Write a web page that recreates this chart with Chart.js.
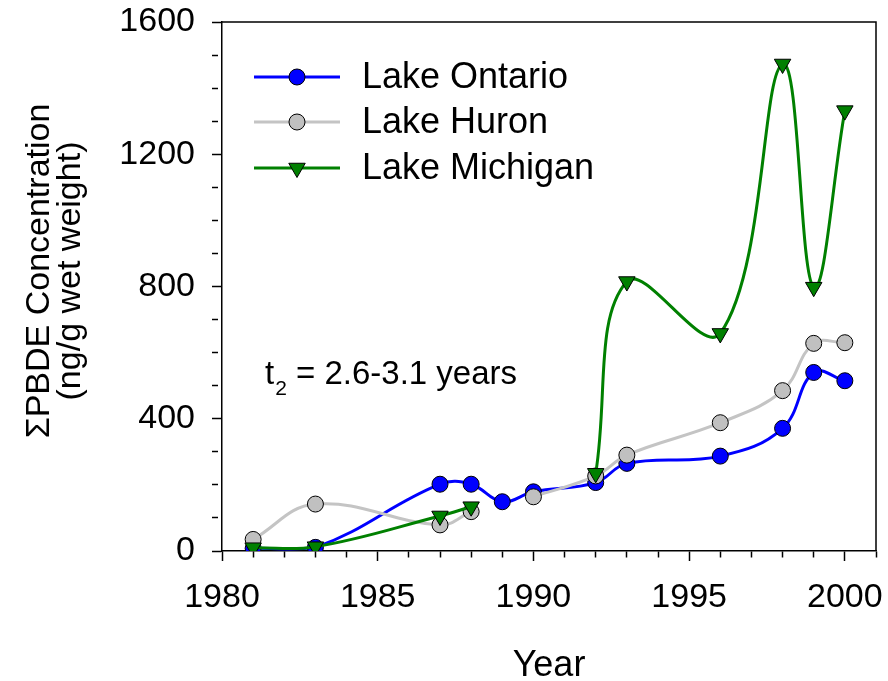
<!DOCTYPE html>
<html>
<head>
<meta charset="utf-8">
<script src="https://cdn.jsdelivr.net/npm/chart.js@4.4.1/dist/chart.umd.min.js"></script>
<style>
html,body{margin:0;padding:0;background:#ffffff;}
#wrap{width:888px;height:681px;}
</style>
</head>
<body>
<div id="wrap"><canvas id="c" width="888" height="681"></canvas></div>
<script>
// ---- data ----
const yearsOntario = [1981, 1983, 1987, 1988, 1989, 1990, 1992, 1993, 1996, 1998, 1999, 2000];
const ontario      = [8, 11, 202, 202, 149, 179, 207, 265, 287, 371, 540, 515];

const yearsHuron   = [1981, 1983, 1987, 1988, 1989, 1990, 1992, 1993, 1996, 1998, 1999, 2000];
const huron        = [35, 142, 79, 119, null, 164, 227, 290, 388, 485, 628, 630];

const yearsMichigan = [1981, 1983, 1987, 1988, 1989, 1992, 1993, 1996, 1998, 1999, 2000];
const michigan      = [10, 13, 106, 134, null, 235, 815, 658, 1473, 798, 1332];

const seriesNames = ['Lake Ontario', 'Lake Huron', 'Lake Michigan'];
const yTitleLines = ['\u03A3PBDE Concentration', '(ng/g wet weight)'];
const xTitle = 'Year';
const xMin = 1980, xMax = 2001, xMajor = 5;
const yMin = 0, yMax = 1600, yMajor = 400, yMinor = 100;
const annotationMain = 't', annotationSub = '2', annotationRest = ' = 2.6-3.1 years';

const FONT = "'Liberation Sans', Arial, Helvetica, sans-serif";

function pts(xs, ys) { return xs.map((x, i) => ({ x: x, y: ys[i] })); }

const colors = { ontario: '#0000ff', huron: '#c4c4c4', michigan: '#008000' };

const chromePlugin = {
  id: 'chrome',
  beforeDatasetsDraw(chart) {
    const ctx = chart.ctx, a = chart.chartArea;
    ctx.save();
    ctx.strokeStyle = '#000';
    ctx.lineWidth = 1.5;
    ctx.beginPath();
    ctx.moveTo(a.left, a.top);
    ctx.lineTo(a.right, a.top);
    ctx.lineTo(a.right, a.bottom);
    ctx.stroke();
    ctx.restore();
  },
  afterDraw(chart) {
    const ctx = chart.ctx;
    ctx.save();
    // legend
    const items = [
      { name: seriesNames[0], color: colors.ontario, fill: colors.ontario, shape: 'circle', y: 77 },
      { name: seriesNames[1], color: colors.huron, fill: '#c0c0c0', shape: 'circle', y: 122 },
      { name: seriesNames[2], color: colors.michigan, fill: colors.michigan, shape: 'tri', y: 168 }
    ];
    items.forEach(it => {
      ctx.strokeStyle = it.color;
      ctx.lineWidth = 3;
      ctx.beginPath();
      ctx.moveTo(254, it.y);
      ctx.lineTo(340, it.y);
      ctx.stroke();
      ctx.fillStyle = it.fill;
      ctx.strokeStyle = '#000';
      ctx.lineWidth = 1;
      ctx.beginPath();
      if (it.shape === 'circle') {
        ctx.arc(297, it.y, 8, 0, Math.PI * 2);
      } else {
        const r = 9.5;
        ctx.moveTo(297, it.y + r);
        ctx.lineTo(297 - r * 0.866, it.y - r / 2);
        ctx.lineTo(297 + r * 0.866, it.y - r / 2);
        ctx.closePath();
      }
      ctx.fill();
      ctx.stroke();
      ctx.fillStyle = '#000';
      ctx.font = '36px ' + FONT;
      ctx.textAlign = 'left';
      ctx.textBaseline = 'middle';
      ctx.fillText(it.name, 362, it.y + 1);
    });
    // annotation
    ctx.fillStyle = '#000';
    ctx.textBaseline = 'alphabetic';
    ctx.textAlign = 'left';
    ctx.font = '33px ' + FONT;
    let x = 265;
    ctx.fillText(annotationMain, x, 384);
    x += ctx.measureText(annotationMain).width + 1;
    ctx.font = '21px ' + FONT;
    ctx.fillText(annotationSub, x, 395);
    x += ctx.measureText(annotationSub).width;
    ctx.font = '33px ' + FONT;
    ctx.fillText(annotationRest, x, 384);
    // y title
    ctx.font = '34px ' + FONT;
    ctx.textAlign = 'center';
    ctx.textBaseline = 'middle';
    ctx.translate(0, 271);
    ctx.rotate(-Math.PI / 2);
    ctx.fillText(yTitleLines[0], 0, 40);
    ctx.fillText(yTitleLines[1], 0, 71);
    ctx.restore();
  }
};

const minorDash = (major) => (ctx) => {
  const v = ctx.tick ? ctx.tick.value : 0;
  return (Math.abs(v % major) < 1e-6) ? [] : [6, 30];
};

new Chart(document.getElementById('c'), {
  type: 'line',
  data: {
    datasets: [
      {
        label: seriesNames[2], data: pts(yearsMichigan, michigan), order: 1,
        borderColor: colors.michigan, backgroundColor: colors.michigan, borderWidth: 3,
        pointStyle: 'triangle', rotation: 180, pointRadius: 9.5, pointBorderColor: '#000',
        pointBorderWidth: 1, pointBackgroundColor: colors.michigan, tension: 0.4, spanGaps: false
      },
      {
        label: seriesNames[1], data: pts(yearsHuron, huron), order: 2,
        borderColor: colors.huron, backgroundColor: '#c0c0c0', borderWidth: 3,
        pointStyle: 'circle', pointRadius: 8, pointBorderColor: '#000',
        pointBorderWidth: 1, pointBackgroundColor: '#c0c0c0', tension: 0.4, spanGaps: false
      },
      {
        label: seriesNames[0], data: pts(yearsOntario, ontario), order: 3,
        borderColor: colors.ontario, backgroundColor: colors.ontario, borderWidth: 3,
        pointStyle: 'circle', pointRadius: 8, pointBorderColor: '#000',
        pointBorderWidth: 1, pointBackgroundColor: colors.ontario, tension: 0.4, spanGaps: false
      }
    ]
  },
  options: {
    responsive: false,
    animation: false,
    devicePixelRatio: 1,
    layout: { padding: { top: 22, right: 12, bottom: 0, left: 0 } },
    plugins: { legend: { display: false }, tooltip: { enabled: false } },
    scales: {
      x: {
        type: 'linear', min: xMin, max: xMax,
        afterFit(s) { s.height = 130; s.paddingLeft = 0; s.paddingRight = 0; },
        border: { display: true, color: '#000', width: 1.5 },
        grid: { display: true, drawOnChartArea: false, drawTicks: true, tickLength: 10,
                tickColor: '#000', tickWidth: 1.5, tickBorderDash: minorDash(xMajor) },
        ticks: {
          stepSize: 1, autoSkip: false, maxRotation: 0, padding: 16, color: '#000',
          font: { family: FONT, size: 34 },
          callback: (v) => (v % xMajor === 0 ? String(v) : '')
        },
        title: { display: true, text: xTitle, color: '#000', font: { family: FONT, size: 36, lineHeight: 0.85 },
                 padding: { top: 0, bottom: 0 } }
      },
      y: {
        type: 'linear', min: yMin, max: yMax,
        afterFit(s) { s.width = 222; s.paddingTop = 0; s.paddingBottom = 0; },
        border: { display: true, color: '#000', width: 1.5 },
        grid: { display: true, drawOnChartArea: false, drawTicks: true, tickLength: 10,
                tickColor: '#000', tickWidth: 1.5, tickBorderDash: minorDash(yMajor) },
        ticks: {
          stepSize: yMinor, autoSkip: false, padding: 17, color: '#000',
          font: { family: FONT, size: 34 },
          callback: (v) => (v % yMajor === 0 ? String(v) : '')
        },
        title: { display: false }
      }
    }
  },
  plugins: [chromePlugin]
});
</script>
</body>
</html>
